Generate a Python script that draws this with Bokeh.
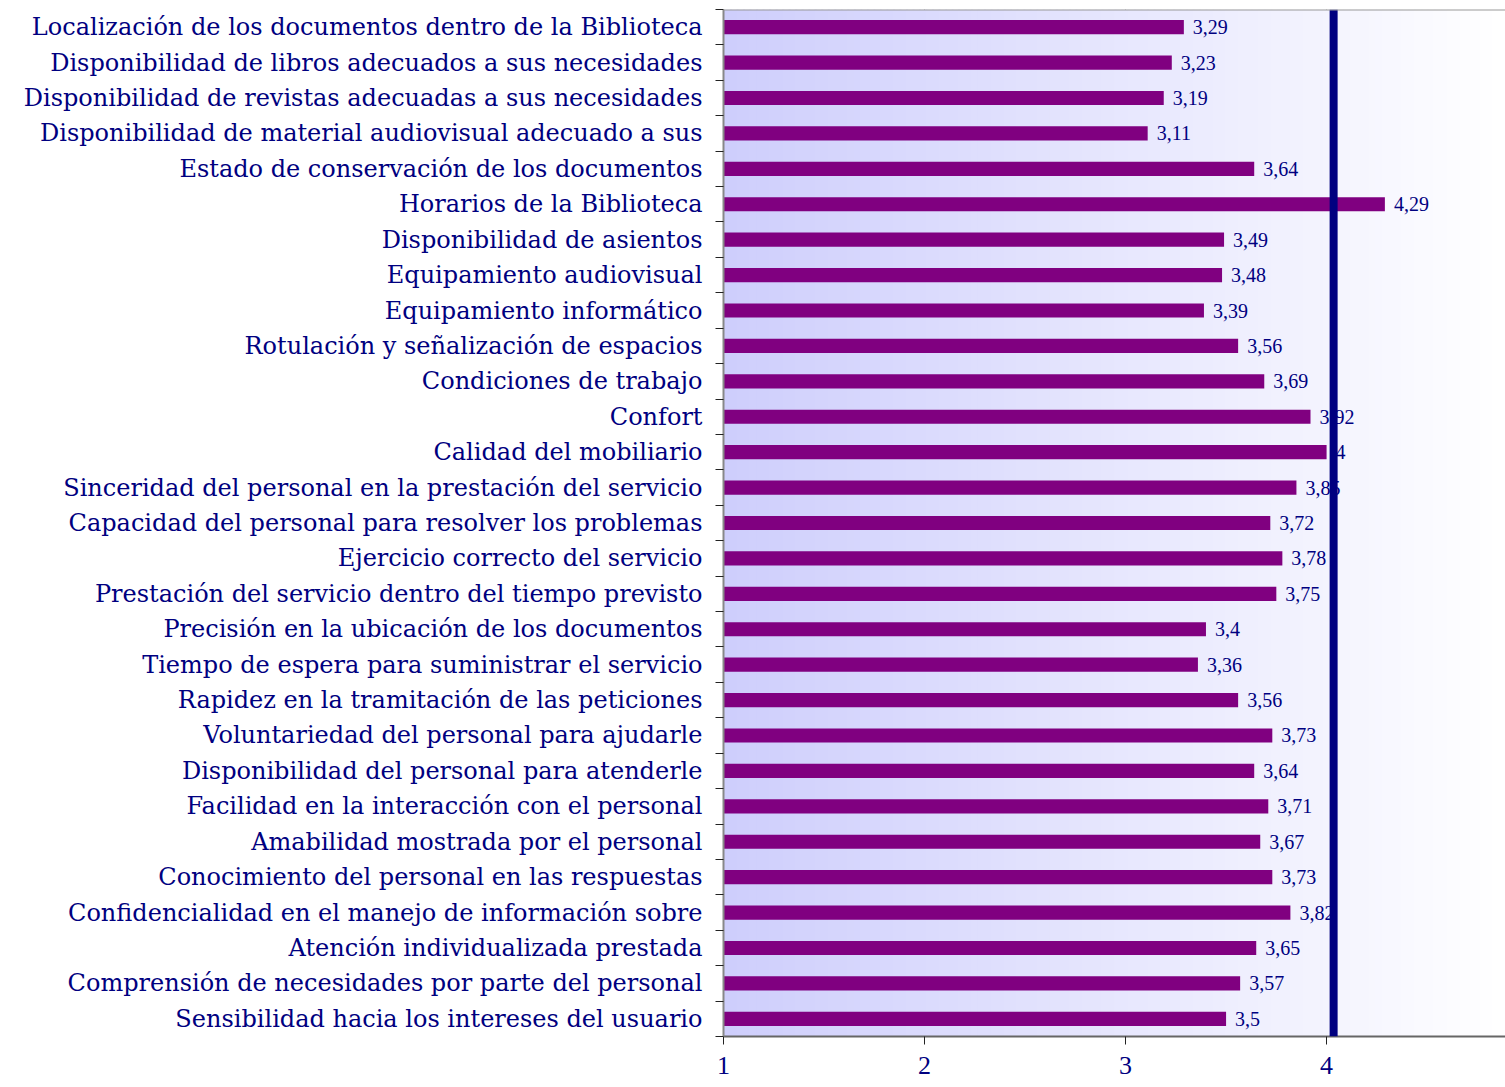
import numpy as np
from bokeh.plotting import figure
from bokeh.models import Range1d, FixedTicker, Span, ColumnDataSource, LabelSet
from bokeh.embed import file_html
from bokeh.resources import INLINE

categorias = [
    "Localización de los documentos dentro de la Biblioteca",
    "Disponibilidad de libros adecuados a sus necesidades",
    "Disponibilidad de revistas adecuadas a sus necesidades",
    "Disponibilidad de material audiovisual adecuado a sus",
    "Estado de conservación de los documentos",
    "Horarios de la Biblioteca",
    "Disponibilidad de asientos",
    "Equipamiento audiovisual",
    "Equipamiento informático",
    "Rotulación y señalización de espacios",
    "Condiciones de trabajo",
    "Confort",
    "Calidad del mobiliario",
    "Sinceridad del personal en la prestación del servicio",
    "Capacidad del personal para resolver los problemas",
    "Ejercicio correcto del servicio",
    "Prestación del servicio dentro del tiempo previsto",
    "Precisión en la ubicación de los documentos",
    "Tiempo de espera para suministrar el servicio",
    "Rapidez en la tramitación de las peticiones",
    "Voluntariedad del personal para ajudarle",
    "Disponibilidad del personal para atenderle",
    "Facilidad en la interacción con el personal",
    "Amabilidad mostrada por el personal",
    "Conocimiento del personal en las respuestas",
    "Confidencialidad en el manejo de información sobre",
    "Atención individualizada prestada",
    "Comprensión de necesidades por parte del personal",
    "Sensibilidad hacia los intereses del usuario",
]
valores = [3.29, 3.23, 3.19, 3.11, 3.64, 4.29, 3.49, 3.48, 3.39, 3.56, 3.69, 3.92, 4.0,
           3.85, 3.72, 3.78, 3.75, 3.4, 3.36, 3.56, 3.73, 3.64, 3.71, 3.67, 3.73, 3.82,
           3.65, 3.57, 3.5]
ticks_x = [1, 2, 3, 4, 5]
referencia = 4.035

n = len(categorias)
x_min, x_max = 1, 4.89
posiciones = [n - 0.5 - i for i in range(n)]
etiquetas = [f"{v:g}".replace(".", ",") for v in valores]

p = figure(width=1505, height=1087, output_backend="svg", toolbar_location=None,
           x_range=Range1d(x_min, x_max), y_range=Range1d(0, n),
           min_border_left=723, min_border_right=0, min_border_top=9,
           min_border_bottom=51)
p.background_fill_color = "white"
p.border_fill_color = "white"
p.outline_line_color = None

# horizontal gradient background (lavender -> white)
steps = 120
edges = np.linspace(x_min, x_max, steps + 1)
c0 = np.array([206, 206, 252])
c1 = np.array([255, 255, 255])
cols = []
for k in range(steps):
    t = k / (steps - 1)
    c = (c0 + (c1 - c0) * t).round().astype(int)
    cols.append("#%02x%02x%02x" % tuple(c))
p.quad(left=edges[:-1], right=edges[1:] + (x_max - x_min) / steps * 0.3,
       bottom=0, top=n, fill_color=cols, line_color=None)

# grid
p.xgrid.ticker = FixedTicker(ticks=ticks_x)
p.xgrid.grid_line_color = "#333333"
p.xgrid.grid_line_width = 1
p.xgrid.level = "underlay"
p.ygrid.grid_line_color = None

src = ColumnDataSource(dict(y=posiciones, v=valores, lab=etiquetas))
p.hbar(y="y", left=1, right="v", height=0.4, fill_color="#800080", line_color=None, source=src)

labels = LabelSet(x="v", y="y", text="lab", source=src, x_offset=9,
                  text_baseline="middle", text_align="left",
                  text_font="Liberation Serif", text_font_size="20px",
                  text_color="#000080")
p.add_layout(labels)

p.add_layout(Span(location=referencia, dimension="height", line_color="#000080", line_width=8))
p.add_layout(Span(location=n, dimension="width", line_color="#999999", line_width=2))

# x axis
p.xaxis.ticker = FixedTicker(ticks=ticks_x)
p.xaxis.axis_line_color = "#666666"
p.xaxis.axis_line_width = 2
p.xaxis.major_tick_line_color = "#222222"
p.xaxis.major_tick_out = 8
p.xaxis.major_tick_in = 0
p.xaxis.minor_tick_line_color = None
p.xaxis.major_label_standoff = 12
p.xaxis.major_label_text_font = "Liberation Serif"
p.xaxis.major_label_text_font_size = "26px"
p.xaxis.major_label_text_color = "#000080"

# y axis
p.yaxis.ticker = FixedTicker(ticks=posiciones, minor_ticks=list(range(n + 1)))
p.yaxis.major_label_overrides = {float(y): c for y, c in zip(posiciones, categorias)}
p.yaxis.major_tick_out = 0
p.yaxis.major_tick_in = 0
p.yaxis.minor_tick_out = 8
p.yaxis.minor_tick_in = 0
p.yaxis.minor_tick_line_color = "#222222"
p.yaxis.axis_line_color = "#888888"
p.yaxis.axis_line_width = 2
p.yaxis.major_label_standoff = 13
p.yaxis.major_label_text_font = "DejaVu Serif"
p.yaxis.major_label_text_font_size = "24px"
p.yaxis.major_label_text_color = "#000080"

open("out.html", "w").write(file_html(p, INLINE))
